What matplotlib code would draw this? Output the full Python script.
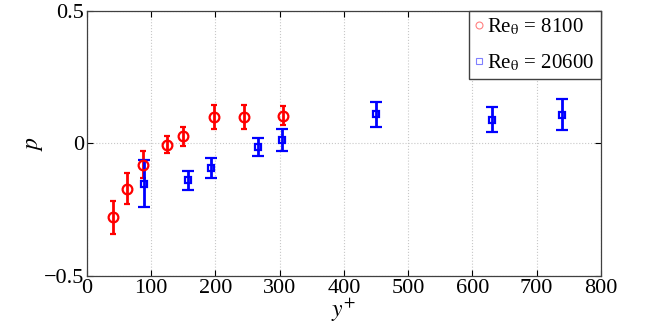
import matplotlib
matplotlib.use('Agg')
import matplotlib.pyplot as plt
from matplotlib.lines import Line2D
import numpy as np

# Re_theta = 8100
yplus_8100 = [40.5, 62, 86.5, 124, 149, 197.5, 245, 305.5]
p_8100 = [-0.279, -0.17, -0.08, -0.005, 0.027, 0.099, 0.099, 0.105]
err_8100 = [0.061, 0.06, 0.052, 0.032, 0.036, 0.046, 0.046, 0.037]

# Re_theta = 20600
yplus_20600 = [88.7, 157, 193.5, 266, 304, 449.8, 630, 740]
p_20600 = [-0.151, -0.138, -0.093, -0.014, 0.014, 0.11, 0.09, 0.109]
err_20600 = [0.09, 0.036, 0.038, 0.033, 0.041, 0.047, 0.046, 0.06]

plt.rcParams['font.family'] = ['Liberation Serif', 'DejaVu Serif']
plt.rcParams['mathtext.fontset'] = 'stix'

fig = plt.figure(figsize=(6.64, 3.26), dpi=100)
ax = fig.add_axes([0.131, 0.153, 0.774, 0.814])

ax.errorbar(yplus_8100, p_8100, yerr=err_8100, fmt='o', color='red',
            mfc='none', mec='red', ms=7, mew=1.6, elinewidth=2, capsize=2, capthick=2)
ax.errorbar(yplus_20600, p_20600, yerr=err_20600, fmt='s', color='blue',
            mfc='none', mec='blue', ms=5, mew=1.6, elinewidth=2, capsize=4, capthick=2)

ax.set_xlim(0, 800)
ax.set_ylim(-0.5, 0.5)
ax.set_xticks(np.arange(0, 801, 100))
ax.set_yticks([-0.5, 0, 0.5])
ax.set_yticklabels(['\u22120.5', '0', '0.5'])
ax.grid(True, linestyle=':', color='#c8c8c8', linewidth=0.8)
ax.tick_params(direction='in', top=True, right=True, labelsize=16, length=4, width=0.8, pad=2)
for s in ax.spines.values():
    s.set_color('#404040')
    s.set_linewidth(0.9)

ax.set_xlabel('$y^{+}$', fontsize=17, labelpad=-1)
ax.set_ylabel('$p$', fontsize=17, labelpad=-1)

handles = [Line2D([], [], ls='none', marker='o', ms=5, mfc='none', mec='#ff8080', mew=0.8),
           Line2D([], [], ls='none', marker='s', ms=4, mfc='none', mec='#8080ff', mew=0.8)]
leg = ax.legend(handles, [r'Re$_{\mathrm{\theta}}$ = 8100', r'Re$_{\mathrm{\theta}}$ = 20600'],
                loc='upper right', fontsize=15, frameon=True, fancybox=False,
                borderaxespad=0, handlelength=0.4, handletextpad=0.2,
                borderpad=0.3, labelspacing=0.7)
leg.get_frame().set_edgecolor('#404040')
leg.get_frame().set_linewidth(1.0)
leg.get_frame().set_alpha(1)

plt.savefig('out.png', dpi=100)
